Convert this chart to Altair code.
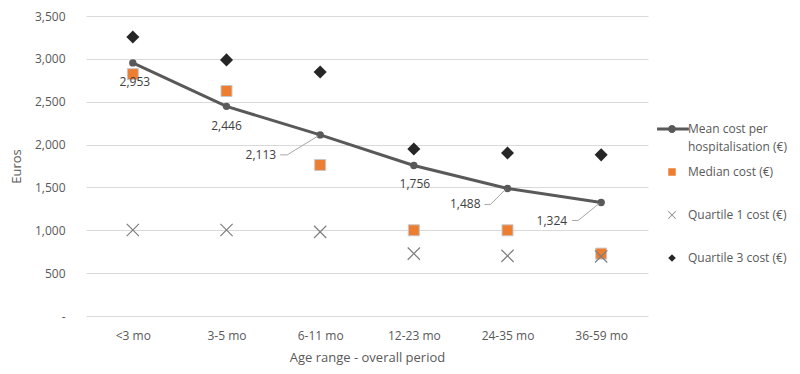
import altair as alt
import pandas as pd

categories = ["<3 mo", "3-5 mo", "6-11 mo", "12-23 mo", "24-35 mo", "36-59 mo"]
mean_cost = [2953, 2446, 2113, 1756, 1488, 1324]
median_cost = [2822, 2625, 1762, 1000, 1000, 728]
q1_cost = [1003, 1003, 982, 728, 702, 695]
q3_cost = [3255, 2988, 2847, 1948, 1902, 1880]
mean_labels = ["2,953", "2,446", "2,113", "1,756", "1,488", "1,324"]
series_names = ["Mean cost per hospitalisation (€)", "Median cost (€)",
                "Quartile 1 cost (€)", "Quartile 3 cost (€)"]
y_ticks = [0, 500, 1000, 1500, 2000, 2500, 3000, 3500]

# styles
series_colors = ["#595959", "#ED7D31", "#7F7F7F", "#262626"]
MEAN_PATH = ("M-4,-0.4H4.5V0.4H-4Z"
             "M-1.07,0A1.07,1.07 0 1,1 1.07,0A1.07,1.07 0 1,1 -1.07,0Z")
X_PATH = ("M-0.93,-1.07L1.07,0.93L0.93,1.07L-1.07,-0.93Z"
          "M1.07,-0.93L-0.93,1.07L-1.07,0.93L0.93,-1.07Z")
series_shapes = [MEAN_PATH, "square", X_PATH, "diamond"]
series_sizes = [None, 121, 150, 170]
series_strokes = [None, "#C8C8C8", None, None]
# label offsets (dx, dy, align, leader segment x-range)
label_style = [
    (2, 19, "center", None),
    (0, 20, "center", None),
    (-44, 20, "right", (-40, -33)),
    (1, 19, "center", None),
    (-27, 16, "right", (-23, -17)),
    (-34, 18, "right", (-29, -23)),
]

FONT = "Open Sans"
GREY = "#595959"

base = pd.DataFrame({"category": categories, "mean": mean_cost, "label": mean_labels})
rows = []
for name, vals in zip(series_names[1:], [median_cost, q1_cost, q3_cost]):
    for c, v in zip(categories, vals):
        rows.append({"category": c, "series": name, "value": v})
scatter_df = pd.DataFrame(rows)

x_enc = alt.X("category:N", sort=categories,
              scale=alt.Scale(type="point", domain=categories, padding=0.5),
              axis=alt.Axis(title="Age range - overall period", labelAngle=0,
                            labelPadding=14, titlePadding=10, grid=False))
y_scale = alt.Scale(domain=[0, 3500], nice=False, zero=True)
y_axis = alt.Axis(title="Euros", values=y_ticks, labelPadding=21, titlePadding=11,
                  labelExpr="datum.value == 0 ? '-\u00a0\u00a0' : format(datum.value, ',')")

legend = alt.Legend(
    title=None, orient="none", legendX=580, legendY=107,
    symbolSize=56, labelOffset=10, labelFont=FONT, labelFontSize=12,
    labelColor=GREY, rowPadding=13, gridAlign="all", labelLimit=200, padding=0,
    symbolStrokeWidth=0,
    labelExpr=("datum.value == 'Mean cost per hospitalisation (€)' ? "
               "['Mean cost per', 'hospitalisation (€)'] : datum.label"),
)
color_enc = alt.Color("series:N", scale=alt.Scale(domain=series_names, range=series_colors),
                      legend=legend)
shape_enc = alt.Shape("series:N", scale=alt.Scale(domain=series_names, range=series_shapes),
                      legend=legend)

line = alt.Chart(base).mark_line(color=GREY, strokeWidth=3).encode(
    x=x_enc, y=alt.Y("mean:Q", scale=y_scale, axis=y_axis))
mean_pts = alt.Chart(base).mark_point(filled=True, shape="circle", size=55,
                                      color=GREY, opacity=1).encode(
    x=x_enc, y=alt.Y("mean:Q", scale=y_scale))

layers = [line, mean_pts]
for name, size, stroke in zip(series_names[1:], series_sizes[1:], series_strokes[1:]):
    mk = dict(filled=True, size=size, opacity=1)
    if stroke:
        mk.update(stroke=stroke, strokeWidth=1)
    else:
        mk.update(strokeWidth=0)
    layers.append(
        alt.Chart(scatter_df).transform_filter(alt.datum.series == name)
        .mark_point(**mk)
        .encode(x=x_enc, y=alt.Y("value:Q", scale=y_scale), color=color_enc, shape=shape_enc)
    )

for cat, (dx, dy, align, leader) in zip(categories, label_style):
    sub = alt.Chart(base).transform_filter(alt.datum.category == cat)
    if leader is not None:
        layers.append(sub.mark_rule(color="#A6A6A6", strokeWidth=1,
                                    xOffset=leader[0], x2Offset=leader[1],
                                    yOffset=dy, y2Offset=dy).encode(
            x=x_enc, x2="category:N", y=alt.Y("mean:Q", scale=y_scale), y2="mean:Q"))
        layers.append(sub.mark_rule(color="#A6A6A6", strokeWidth=1,
                                    xOffset=leader[1], x2Offset=-2,
                                    yOffset=dy, y2Offset=1).encode(
            x=x_enc, x2="category:N", y=alt.Y("mean:Q", scale=y_scale), y2="mean:Q"))
    layers.append(sub.mark_text(dx=dx, dy=dy, align=align, baseline="middle",
                                font=FONT, fontSize=12, color="#404040").encode(
        x=x_enc, y=alt.Y("mean:Q", scale=y_scale), text="label:N"))

chart = alt.layer(*layers).properties(
    width=562, height=300,
    autosize=alt.AutoSizeParams(type="none"),
    padding={"left": 78, "top": 8, "right": 144, "bottom": 50},
).configure(
    style={"guide-label": {"lineHeight": 18}}
).configure_view(stroke=None).configure_axis(
    domain=False, ticks=False, labelFont=FONT, labelFontSize=12, labelColor=GREY,
    titleFont=FONT, titleFontSize=13, titleColor=GREY, titleFontWeight="normal",
    gridColor="#D9D9D9", gridWidth=1,
)

chart.save("out.html", embed_options={"renderer": "svg", "actions": False})
